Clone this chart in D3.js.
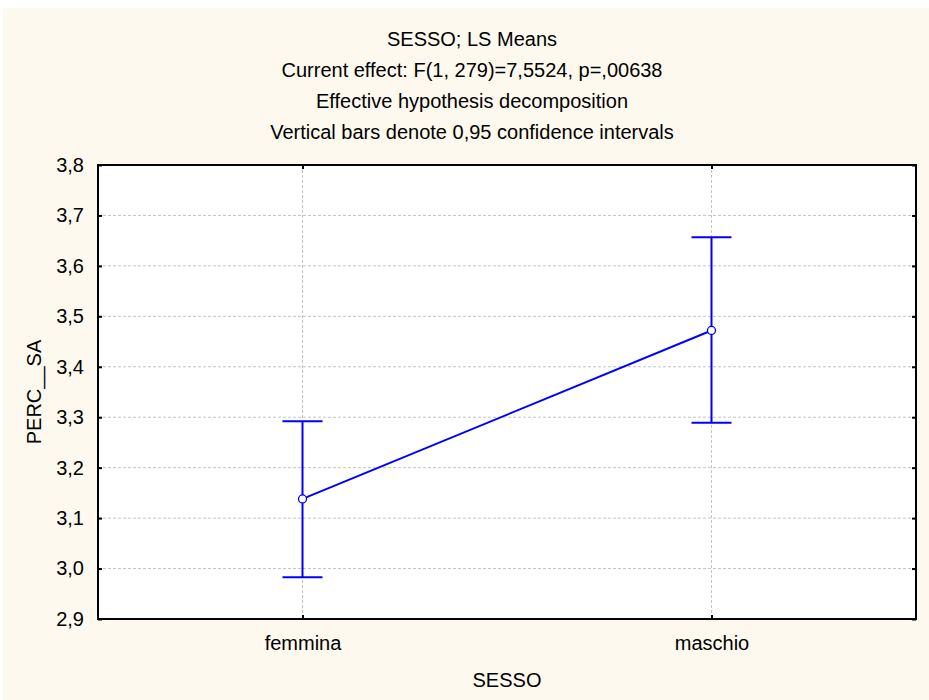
<!DOCTYPE html>
<html>
<head>
<meta charset="utf-8">
<script src="https://cdn.jsdelivr.net/npm/d3@7"></script>
<style>
  html, body { margin: 0; padding: 0; background: #ffffff; }
  svg { display: block; }
  text { font-family: "Liberation Sans", Arial, sans-serif; fill: #000; }
</style>
</head>
<body>
<svg id="chart" width="929" height="700"></svg>
<script>
// ---- data ----
const categories = ["femmina", "maschio"];
const means = [3.138, 3.472];
const lowerCI = [2.983, 3.289];
const upperCI = [3.292, 3.657];
const yTicks = [2.9, 3.0, 3.1, 3.2, 3.3, 3.4, 3.5, 3.6, 3.7, 3.8];
const titleLines = [
  "SESSO; LS Means",
  "Current effect: F(1, 279)=7,5524, p=,00638",
  "Effective hypothesis decomposition",
  "Vertical bars denote 0,95 confidence intervals"
];
const xLabel = "SESSO";
const yLabel = "PERC__SA";

// ---- layout ----
const W = 929, H = 700;
const plot = { left: 98, right: 916, top: 165, bottom: 619 };
const svg = d3.select("#chart");

svg.append("rect").attr("x", 3).attr("y", 8).attr("width", W - 3).attr("height", H - 8)
  .attr("fill", "#fdf9ee");

svg.append("rect").attr("x", plot.left).attr("y", plot.top)
  .attr("width", plot.right - plot.left).attr("height", plot.bottom - plot.top)
  .attr("fill", "#ffffff");

const x = d3.scalePoint().domain(categories).range([plot.left, plot.right]).padding(0.5);
const y = d3.scaleLinear().domain([2.9, 3.8]).range([plot.bottom, plot.top]);
const fmt = d => d3.format(".1f")(d).replace(".", ",");

// grid
const grid = svg.append("g");
grid.selectAll("line.h").data(yTicks.slice(1, -1)).join("line")
  .attr("x1", plot.left).attr("x2", plot.right)
  .attr("y1", d => y(d)).attr("y2", d => y(d))
  .attr("stroke", "#c4c4c4").attr("stroke-width", 1).attr("stroke-dasharray", "3,2");
grid.selectAll("line.v").data(categories).join("line")
  .attr("x1", d => x(d)).attr("x2", d => x(d))
  .attr("y1", plot.top).attr("y2", plot.bottom)
  .attr("stroke", "#c4c4c4").attr("stroke-width", 1).attr("stroke-dasharray", "3,2");

// axes (inward ticks)
const axL = svg.append("g").attr("transform", `translate(${plot.left},0)`)
  .call(d3.axisLeft(y).tickValues(yTicks).tickSize(-4).tickPadding(14).tickFormat(fmt));
const axR = svg.append("g").attr("transform", `translate(${plot.right},0)`)
  .call(d3.axisRight(y).tickValues(yTicks).tickSize(-4).tickFormat(""));
const axB = svg.append("g").attr("transform", `translate(0,${plot.bottom})`)
  .call(d3.axisBottom(x).tickSize(-4).tickPadding(17));
const axT = svg.append("g").attr("transform", `translate(0,${plot.top})`)
  .call(d3.axisTop(x).tickSize(-4).tickFormat(""));
[axL, axR, axB, axT].forEach(a => {
  a.select(".domain").remove();
  a.selectAll(".tick line").attr("stroke", "#000").attr("stroke-width", 2);
  a.selectAll("text").attr("font-size", 20).attr("font-family", "Liberation Sans, Arial, sans-serif").attr("fill", "#000");
});

// frame
svg.append("rect").attr("x", plot.left).attr("y", plot.top)
  .attr("width", plot.right - plot.left).attr("height", plot.bottom - plot.top)
  .attr("fill", "none").attr("stroke", "#000").attr("stroke-width", 2);

// titles
svg.selectAll("text.title").data(titleLines).join("text")
  .attr("class", "title")
  .attr("x", (plot.left + plot.right) / 2 - 35)
  .attr("y", (d, i) => 46 + i * 31)
  .attr("text-anchor", "middle").attr("font-size", 20)
  .text(d => d);

svg.append("text").attr("x", (plot.left + plot.right) / 2).attr("y", 687)
  .attr("text-anchor", "middle").attr("font-size", 20).text(xLabel);
svg.append("text").attr("transform", `translate(41,${(plot.top + plot.bottom) / 2}) rotate(-90)`)
  .attr("text-anchor", "middle").attr("font-size", 20).text(yLabel);

// error bars
const blue = "#0000ff";
const data = categories.map((c, i) => ({ c, m: means[i], lo: lowerCI[i], hi: upperCI[i] }));
const eb = svg.append("g").attr("stroke", blue).attr("stroke-width", 2).attr("fill", "none");
eb.selectAll("line.v").data(data).join("line")
  .attr("x1", d => x(d.c)).attr("x2", d => x(d.c))
  .attr("y1", d => y(d.lo)).attr("y2", d => y(d.hi));
eb.selectAll("line.capHi").data(data).join("line")
  .attr("x1", d => x(d.c) - 20).attr("x2", d => x(d.c) + 20)
  .attr("y1", d => y(d.hi)).attr("y2", d => y(d.hi));
eb.selectAll("line.capLo").data(data).join("line")
  .attr("x1", d => x(d.c) - 20).attr("x2", d => x(d.c) + 20)
  .attr("y1", d => y(d.lo)).attr("y2", d => y(d.lo));

// mean line
svg.append("path").datum(data)
  .attr("d", d3.line().x(d => x(d.c)).y(d => y(d.m)))
  .attr("stroke", blue).attr("stroke-width", 2).attr("fill", "none");
svg.selectAll("circle.pt").data(data).join("circle")
  .attr("cx", d => x(d.c)).attr("cy", d => y(d.m)).attr("r", 4)
  .attr("fill", "#fff").attr("stroke", blue).attr("stroke-width", 1.3);
</script>
</body>
</html>
